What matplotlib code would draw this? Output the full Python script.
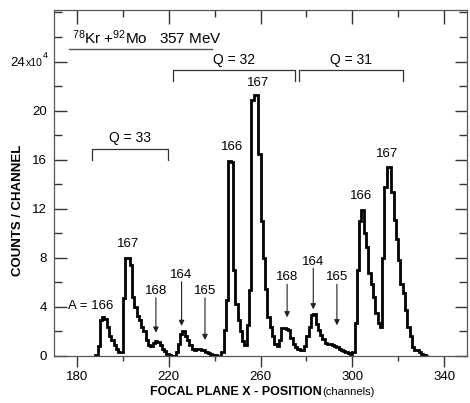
import matplotlib
matplotlib.use("Agg")
import matplotlib.pyplot as plt
import matplotlib.transforms as mtransforms
from matplotlib import font_manager
from matplotlib.ticker import MultipleLocator, FixedLocator, FixedFormatter
from matplotlib.lines import Line2D
import numpy as np

names = {f.name for f in font_manager.fontManager.ttflist}
FONT = ['Liberation Sans Narrow', 'Liberation Sans', 'DejaVu Sans']
FONT = [f for f in FONT if f in names] or ['DejaVu Sans']
plt.rcParams['font.family'] = FONT
plt.rcParams['mathtext.fontset'] = 'custom'
plt.rcParams['mathtext.rm'] = FONT[0]
plt.rcParams['mathtext.it'] = FONT[0]

# ---------------- data (counts / channel, units of 1e4) ----------------
first_channel = 188
counts = [
    0.1, 0.8, 2.9, 3.15, 3.0, 2.4, 1.6, 1.3, 0.9, 0.6, 0.35, 0.3,          # 188-199
    4.7, 8.0, 8.0, 7.4, 4.8, 4.0, 3.3, 2.9, 2.4, 2.0,                      # 200-209
    1.3, 0.9, 0.8, 1.1, 1.25, 1.15, 0.9, 0.6, 0.4, 0.15,                   # 210-219
    0.05, 0.0, 0.0, 0.3, 1.0, 1.8, 2.0, 1.6, 1.3, 0.9,                     # 220-229
    0.6, 0.5, 0.55, 0.6, 0.5, 0.45, 0.35, 0.25, 0.2, 0.1,                  # 230-239
    0.05, 0.0, 0.0, 0.35, 2.1, 4.6, 15.9, 15.8, 7.0, 4.2,                  # 240-249
    2.9, 2.0, 1.2, 0.9, 2.5, 5.4, 20.9, 21.3, 21.3, 16.5,                  # 250-259
    11.0, 8.0, 5.5, 3.2, 2.4, 1.6, 1.0, 0.8, 1.3, 2.25,                    # 260-269
    2.3, 2.2, 2.1, 1.5, 1.0, 0.7, 0.55, 0.5, 0.5, 0.8,                     # 270-279
    1.6, 2.4, 3.35, 3.4, 2.6, 2.1, 1.7, 1.35, 1.1, 1.0,                    # 280-289
    0.95, 0.9, 0.8, 0.75, 0.6, 0.5, 0.4, 0.35, 0.25, 0.15,                 # 290-299
    0.3, 2.7, 7.0, 11.0, 11.9, 10.0, 8.9, 6.8, 5.9, 4.8,                   # 300-309
    3.5, 2.7, 2.4, 8.0, 13.8, 15.4, 15.4, 13.4, 11.1, 9.5,                 # 310-319
    7.8, 5.9, 5.1, 3.75, 2.4, 1.6, 0.76, 0.5, 0.45, 0.35,                  # 320-329
    0.2, 0.1, 0.0,                                                         # 330-332
]
edges = np.arange(first_channel, first_channel + len(counts) + 1)

x_ticks = [180, 220, 260, 300, 340]
y_ticks = [0, 4, 8, 12, 16, 20, 24]
y_tick_labels = ['0', '4', '8', '12', '16', '20', '24']

# charge-state groups
q_names = ['Q = 33', 'Q = 32', 'Q = 31']
q_left = [186.4, 221.7, 276.8]
q_right = [219.5, 275.0, 322.0]
q_level = [16.86, 23.27, 23.27]

# mass labels above peaks
peak_text = ['167', '166', '167', '166', '167']
peak_x = [202.4, 247.6, 259.0, 303.7, 315.3]
peak_y = [9.1, 17.0, 22.25, 13.0, 16.5]

# arrowed mass labels
arrow_text = ['168', '164', '165', '168', '164', '165']
arrow_x = [214.4, 225.6, 235.8, 271.6, 283.0, 293.3]
arrow_label_y = [5.3, 6.6, 5.3, 6.4, 7.7, 6.4]
arrow_tip_y = [1.9, 2.45, 1.3, 3.15, 3.8, 2.5]

FS = 9.5

# ---------------- figure ----------------
W, H = 470, 403
fig = plt.figure(figsize=(W / 100, H / 100), dpi=100)
ax = fig.add_axes([54 / W, 1 - 356 / H, (467 - 54) / W, (356 - 10) / H])

ax.stairs(counts, edges, baseline=0, color='black', lw=2.0)

ax.set_xlim(170, 350)
ax.set_ylim(0, 28.2)

ax.xaxis.set_major_locator(FixedLocator(x_ticks))
ax.xaxis.set_minor_locator(MultipleLocator(20))
ax.yaxis.set_major_locator(FixedLocator(y_ticks))
ax.yaxis.set_major_formatter(FixedFormatter(y_tick_labels))
ax.yaxis.set_minor_locator(MultipleLocator(2))

ax.tick_params(axis='both', which='major', labelsize=FS, width=1.0, color='#333333')
ax.tick_params(axis='both', which='minor', width=1.0, color='#333333')
ax.tick_params(axis='x', which='major', direction='out', length=8, top=False, pad=3)
ax.tick_params(axis='x', which='minor', direction='out', length=3.5, top=False)
ax.tick_params(axis='y', which='major', direction='in', length=9, left=True, right=True, pad=5)
ax.tick_params(axis='y', which='minor', direction='in', length=5.5, left=True, right=True)
sec = ax.secondary_xaxis('top')
sec.xaxis.set_major_locator(FixedLocator(x_ticks))
sec.xaxis.set_minor_locator(MultipleLocator(20))
sec.tick_params(which='major', direction='in', length=10, width=1.0, color='#333333', labeltop=False)
sec.tick_params(which='minor', direction='in', length=5, width=1.0, color='#333333')
sec.spines['top'].set_visible(False)

for s in ax.spines.values():
    s.set_color('#555555')
    s.set_linewidth(0.9)

# the "x10^4" multiplier next to the 24 tick label
fig.text(26 / W, 1 - 66.5 / H, 'x10', ha='left', va='baseline', fontsize=7.5)
fig.text(42.5 / W, 1 - 58 / H, '4', ha='left', va='baseline', fontsize=6.5)

# brackets
for name, l, r, lev in zip(q_names, q_left, q_right, q_level):
    ax.plot([l, l, r, r], [lev - 0.85, lev, lev, lev - 0.85], color='#333333', lw=0.9)
    ax.text((l + r) / 2, lev + 0.3, name, ha='center', va='bottom', fontsize=FS + 0.5)

for t, x, y in zip(peak_text, peak_x, peak_y):
    ax.text(x, y, t, ha='center', va='center', fontsize=FS)

ax.text(186.0, 4.08, 'A = 166', ha='center', va='center', fontsize=FS)

for t, x, ly, ty in zip(arrow_text, arrow_x, arrow_label_y, arrow_tip_y):
    ax.text(x, ly, t, ha='center', va='center', fontsize=FS)
    ax.annotate('', xy=(x, ty), xytext=(x, ly - 0.55),
                arrowprops=dict(arrowstyle='-|>', color='#222222', lw=0.8,
                                mutation_scale=8, shrinkA=0, shrinkB=0))

# reaction title with underline
fig.text(72 / W, 1 - 44 / H, r'$\mathregular{^{78}}$Kr +$\mathregular{^{92}}$Mo   357 MeV',
         ha='left', va='baseline', fontsize=11)
fig.add_artist(Line2D([69 / W, 212 / W], [1 - 48.5 / H, 1 - 48.5 / H],
                      color='#555555', lw=1.0))

# axis labels
fig.text(18 / W, 1 - 210 / H, 'COUNTS / CHANNEL', rotation=90, ha='center', va='center',
         fontsize=9.5, fontweight='bold')
fig.text(150 / W, 1 - 392 / H, 'FOCAL PLANE X - POSITION', ha='left', va='center',
         fontsize=9, fontweight='bold')
fig.text(322 / W, 1 - 392 / H, '(channels)', ha='left', va='center', fontsize=8)

# place the "24" tick label at the far left so the multiplier follows it
for lbl in ax.get_yticklabels():
    if lbl.get_text() == '24':
        lbl.set_horizontalalignment('left')
        lbl.set_transform(mtransforms.blended_transform_factory(fig.transFigure, ax.transData))
        lbl.set_position((10 / W, 24))
fig.savefig('out.png', dpi=100)
